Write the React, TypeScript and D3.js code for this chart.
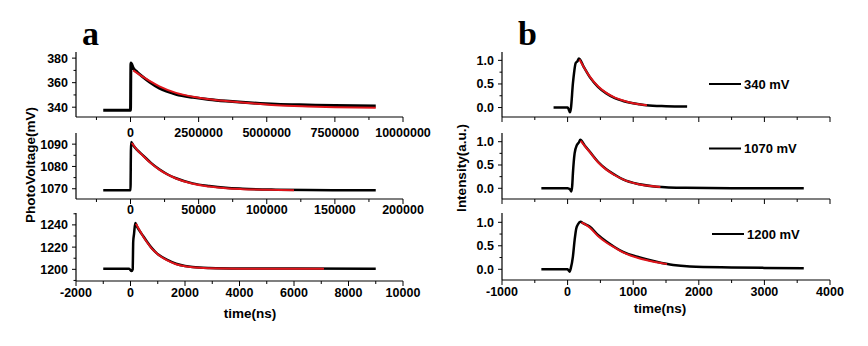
import React from "react";
import * as d3 from "d3";

type P = [number, number];

// ---- Panel a (PhotoVoltage, mV vs time ns) ----
const a1Black: P[] = [[-1000000,337.5],[-20000,337.5],[0,337.5],[15000,376],[100000,372],[250000,368.5],[450000,364.7],[700000,360.5],[1060000,355.5],[1670000,350.6],[2300000,348],[2880000,346.3],[3500000,345],[4100000,344],[5340000,342.4],[6500000,341.8],[7500000,341.4],[9000000,341]];
const a1Red: P[] = [[100000,370],[400000,365.5],[700000,361.5],[1060000,357],[1670000,351.7],[2300000,348.5],[2880000,346.5],[3500000,345],[4100000,343.8],[5340000,341.6],[6500000,340.6],[7500000,340],[9000000,339.5]];
const a2Black: P[] = [[-20000,1069.3],[0,1069.3],[300,1087],[500,1091],[2000,1089.5],[5000,1087.3],[8950,1085.1],[15000,1081.6],[21100,1078.7],[27000,1076.5],[33400,1074.7],[45600,1072.4],[57800,1071.2],[70000,1070.4],[82300,1070],[106700,1069.6],[130000,1069.4],[180000,1069.3]];
const a2Red: P[] = [[1000,1090.5],[5000,1087.3],[8950,1084.9],[15000,1081.4],[21100,1078.6],[27000,1076.4],[33400,1074.6],[45600,1072.2],[57800,1071],[70000,1070.2],[82300,1069.8],[100000,1069.5],[120000,1069.3]];
const a3Black: P[] = [[-1000,1200.5],[-50,1200.5],[40,1198.5],[80,1200],[100,1225],[130,1232],[176,1241.7],[250,1238],[447,1230.6],[600,1225],[752,1220],[900,1216],[1058,1212.6],[1350,1208.5],[1670,1205],[2000,1203],[2280,1202],[2890,1201.2],[4000,1200.8],[6000,1200.7],[9000,1200.6]];
const a3Red: P[] = [[200,1241],[447,1230.3],[600,1224.6],[752,1219.6],[900,1215.8],[1058,1212.4],[1350,1208],[1670,1204.6],[2000,1202.7],[2280,1201.8],[2890,1201],[4000,1200.6],[7100,1200.5]];

// ---- Panel b (normalised intensity vs time ns) ----
const b1Black: P[] = [[-214,0],[0,0],[20,-0.05],[35,-0.1],[50,-0.02],[81,0.51],[100,0.75],[122,0.94],[150,0.98],[173,1.04],[250,0.85],[336,0.65],[463,0.44],[590,0.30],[720,0.2],[845,0.14],[1100,0.07],[1200,0.05],[1500,0.03],[1822,0.02]];
const b1Red: P[] = [[180,1.02],[250,0.85],[336,0.66],[463,0.45],[590,0.31],[720,0.21],[845,0.15],[1000,0.09],[1211,0.05]];
const b2Black: P[] = [[-400,0],[0,0],[40,-0.03],[56,-0.07],[70,0.05],[81,0.32],[107,0.75],[142,0.93],[170,0.98],[194,1.04],[260,0.92],[336,0.79],[463,0.57],[590,0.41],[720,0.29],[845,0.19],[1100,0.085],[1355,0.035],[1800,0.01],[2500,0.0],[3600,0.0]];
const b2Red: P[] = [[200,1.02],[260,0.91],[336,0.78],[463,0.56],[590,0.40],[720,0.28],[845,0.19],[1100,0.08],[1415,0.03]];
const b3Black: P[] = [[-400,0],[0,0],[30,-0.05],[50,0.03],[81,0.27],[107,0.62],[132,0.87],[160,0.96],[194,1.01],[250,0.97],[336,0.91],[463,0.73],[590,0.59],[720,0.47],[845,0.37],[1100,0.25],[1355,0.16],[1610,0.09],[1865,0.06],[2500,0.04],[3000,0.03],[3600,0.02]];
const b3Red: P[] = [[210,1.0],[250,0.97],[336,0.89],[463,0.71],[590,0.57],[720,0.46],[845,0.36],[1100,0.23],[1355,0.15],[1516,0.11]];

const a1XTicks = [0, 2500000, 5000000, 7500000, 10000000];
const a2XTicks = [0, 50000, 100000, 150000, 200000];
const a3XTicks = [-2000, 0, 2000, 4000, 6000, 8000, 10000];
const bXTicks = [-1000, 0, 1000, 2000, 3000, 4000];
const a1YTicks = [340, 360, 380];
const a2YTicks = [1070, 1080, 1090];
const a3YTicks = [1200, 1220, 1240];
const bYTicks = [0, 0.5, 1.0];
const legendLabels = ["340 mV", "1070 mV", "1200 mV"];

const FONT = "'Liberation Sans', Arial, sans-serif";

interface PanelProps {
  x0: number; x1: number; y0: number; y1: number;
  xDom: [number, number]; yDom: [number, number];
  xTicks: number[]; xMinorStep: number;
  yTicks: number[]; yMinorStep: number;
  yFmt: (v: number) => string;
  showXLabels: boolean; xLabelBase: number;
  black: P[]; red: P[]; blackW: number;
  legend?: { x: number; y: number; text: string };
}

function Panel(p: PanelProps) {
  const xs = d3.scaleLinear().domain(p.xDom).range([p.x0, p.x1]);
  const ys = d3.scaleLinear().domain(p.yDom).range([p.y1, p.y0]);
  const line = d3.line<P>().x(d => xs(d[0])).y(d => ys(d[1])).curve(d3.curveMonotoneX);
  const minorX = d3.range(Math.ceil(p.xDom[0] / p.xMinorStep) * p.xMinorStep, p.xDom[1] + 1e-9, p.xMinorStep)
    .filter(v => !p.xTicks.some(t => Math.abs(t - v) < 1e-6));
  const minorY = d3.range(Math.ceil(p.yDom[0] / p.yMinorStep) * p.yMinorStep, p.yDom[1], p.yMinorStep)
    .filter(v => !p.yTicks.some(t => Math.abs(t - v) < 1e-6));
  return (
    <g>
      <path d={line(p.black) || ""} fill="none" stroke="#000" strokeWidth={p.blackW} strokeLinejoin="round" />
      <path d={line(p.red) || ""} fill="none" stroke="#e0141a" strokeWidth={2} strokeLinejoin="round" />
      <line x1={p.x0} x2={p.x0} y1={p.y0} y2={p.y1} stroke="#000" strokeWidth={1.2} />
      <line x1={p.x0} x2={p.x1} y1={p.y1} y2={p.y1} stroke="#000" strokeWidth={1.2} />
      {p.xTicks.map(t => (
        <g key={"xt" + t}>
          <line x1={xs(t)} x2={xs(t)} y1={p.y1} y2={p.y1 + 5} stroke="#000" strokeWidth={1} />
          {p.showXLabels && (
            <text x={xs(t)} y={p.xLabelBase} textAnchor="middle" fontFamily={FONT} fontWeight="bold" fontSize={12.5}>{String(t)}</text>
          )}
        </g>
      ))}
      {minorX.map(t => (
        <line key={"xm" + t} x1={xs(t)} x2={xs(t)} y1={p.y1} y2={p.y1 + 3} stroke="#000" strokeWidth={1} />
      ))}
      {p.yTicks.map(t => (
        <g key={"yt" + t}>
          <line x1={p.x0 - 4} x2={p.x0} y1={ys(t)} y2={ys(t)} stroke="#000" strokeWidth={1} />
          <text x={p.x0 - 8} y={ys(t) + 4.5} textAnchor="end" fontFamily={FONT} fontWeight="bold" fontSize={12.5}>{p.yFmt(t)}</text>
        </g>
      ))}
      {minorY.map(t => (
        <line key={"ym" + t} x1={p.x0 - 2.5} x2={p.x0} y1={ys(t)} y2={ys(t)} stroke="#000" strokeWidth={1} />
      ))}
      {p.legend && (
        <g>
          <line x1={p.legend.x} x2={p.legend.x + 32} y1={p.legend.y} y2={p.legend.y} stroke="#000" strokeWidth={2} />
          <text x={p.legend.x + 35} y={p.legend.y + 4.5} fontFamily={FONT} fontWeight="bold" fontSize={13}>{p.legend.text}</text>
        </g>
      )}
    </g>
  );
}

export default function App() {
  const fmtInt = (v: number) => String(v);
  const fmtDec = (v: number) => v.toFixed(1);
  return (
    <svg width={868} height={346} style={{ position: "absolute", left: 0, top: 0, background: "#fff" }}>
      <rect x={0} y={0} width={868} height={346} fill="#fff" />
      <text x={82} y={45} fontFamily="'Liberation Serif', 'Times New Roman', serif" fontWeight="bold" fontSize={34}>a</text>
      <text x={518} y={45} fontFamily="'Liberation Serif', 'Times New Roman', serif" fontWeight="bold" fontSize={34}>b</text>

      <Panel x0={76} x1={403} y0={52} y1={117} xDom={[-2000000, 10000000]} yDom={[332, 385]}
        xTicks={a1XTicks} xMinorStep={1250000} yTicks={a1YTicks} yMinorStep={10} yFmt={fmtInt}
        showXLabels xLabelBase={136.5} black={a1Black} red={a1Red} blackW={3} />
      <Panel x0={76} x1={403} y0={133} y1={199} xDom={[-40000, 200000]} yDom={[1065.4, 1095]}
        xTicks={a2XTicks} xMinorStep={25000} yTicks={a2YTicks} yMinorStep={5} yFmt={fmtInt}
        showXLabels xLabelBase={214} black={a2Black} red={a2Red} blackW={2.5} />
      <Panel x0={76} x1={403} y0={213} y1={281} xDom={[-2000, 10000]} yDom={[1189.5, 1250.7]}
        xTicks={a3XTicks} xMinorStep={1000} yTicks={a3YTicks} yMinorStep={10} yFmt={fmtInt}
        showXLabels xLabelBase={297} black={a3Black} red={a3Red} blackW={2.5} />

      <Panel x0={502} x1={830} y0={52} y1={117} xDom={[-1000, 4000]} yDom={[-0.2, 1.177]}
        xTicks={bXTicks} xMinorStep={500} yTicks={bYTicks} yMinorStep={0.25} yFmt={fmtDec}
        showXLabels={false} xLabelBase={0} black={b1Black} red={b1Red} blackW={2.5}
        legend={{ x: 709, y: 84, text: legendLabels[0] }} />
      <Panel x0={502} x1={830} y0={133} y1={199} xDom={[-1000, 4000]} yDom={[-0.23, 1.187]}
        xTicks={bXTicks} xMinorStep={500} yTicks={bYTicks} yMinorStep={0.25} yFmt={fmtDec}
        showXLabels={false} xLabelBase={0} black={b2Black} red={b2Red} blackW={2.5}
        legend={{ x: 709, y: 148.5, text: legendLabels[1] }} />
      <Panel x0={502} x1={830} y0={213} y1={280} xDom={[-1000, 4000]} yDom={[-0.228, 1.198]}
        xTicks={bXTicks} xMinorStep={500} yTicks={bYTicks} yMinorStep={0.25} yFmt={fmtDec}
        showXLabels xLabelBase={296} black={b3Black} red={b3Red} blackW={2.5}
        legend={{ x: 712, y: 234, text: legendLabels[2] }} />

      <text x={250} y={318} textAnchor="middle" fontFamily={FONT} fontWeight="bold" fontSize={13.5}>time(ns)</text>
      <text x={660} y={313} textAnchor="middle" fontFamily={FONT} fontWeight="bold" fontSize={13.5}>time(ns)</text>
      <text transform="translate(35,165) rotate(-90)" textAnchor="middle" fontFamily={FONT} fontWeight="bold" fontSize={13.5}>PhotoVoltage(mV)</text>
      <text transform="translate(466,168) rotate(-90)" textAnchor="middle" fontFamily={FONT} fontWeight="bold" fontSize={13.5}>Intensity(a.u.)</text>
    </svg>
  );
}
